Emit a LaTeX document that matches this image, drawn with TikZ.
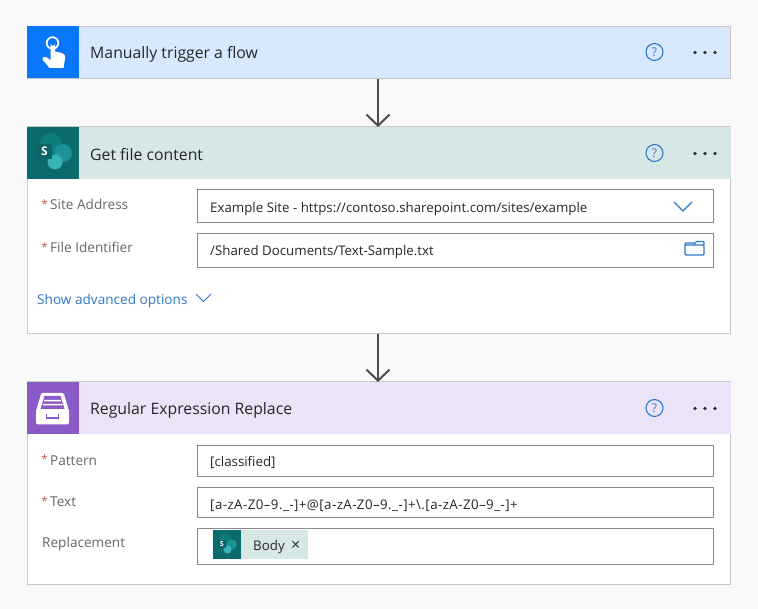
\documentclass[tikz,border=0pt]{standalone}
\usepackage{fontspec}
\setmainfont{Open Sans}
\usetikzlibrary{arrows.meta}
\definecolor{pagebg}{HTML}{F9F9F9}
\definecolor{cardline}{HTML}{C8C8C8}
\definecolor{fieldline}{HTML}{8A8A8A}
\definecolor{triggerhead}{HTML}{D8E9FF}
\definecolor{triggerblue}{HTML}{0A77FA}
\definecolor{sharehead}{HTML}{D7E7E6}
\definecolor{shareteal}{HTML}{0A6A6C}
\definecolor{sharetop}{HTML}{0E7C7E}
\definecolor{shareright}{HTML}{1D9398}
\definecolor{sharelow}{HTML}{3AB3B8}
\definecolor{sharesquare}{HTML}{0B6466}
\definecolor{regexhead}{HTML}{EBE3F7}
\definecolor{regexpurple}{HTML}{8A5BC8}
\definecolor{linkblue}{HTML}{2F78C8}
\definecolor{labelgray}{HTML}{666666}
\definecolor{reqred}{HTML}{C4524F}
\tikzset{
	card/.style={draw=cardline, fill=white, line width=1pt, anchor=north west, minimum width=703pt, inner sep=0pt},
	headbar/.style={draw=cardline, line width=1pt, anchor=north west, minimum width=703pt, minimum height=52pt, inner sep=0pt},
	iconbox/.style={anchor=north west, minimum width=52pt, minimum height=52pt, inner sep=0pt},
	title/.style={anchor=base west, inner sep=0pt, text=black!85, font=\fontsize{15.8}{18}\selectfont},
	fieldbox/.style={draw=fieldline, fill=white, line width=1.2pt, anchor=north west, minimum width=516pt, inner sep=0pt},
	fieldtext/.style={anchor=base west, inner sep=0pt, text=black!85, font=\fontsize{13.3}{15}\selectfont},
	fieldlabel/.style={anchor=base west, inner sep=0pt, text=labelgray, font=\fontsize{13.6}{15}\selectfont},
	reqmark/.style={anchor=base east, inner sep=0pt, text=reqred, font=\fontsize{11.5}{15}\selectfont},
	flowarrow/.style={draw=black!70, line width=2pt, -{Straight Barb[length=11pt,width=23pt,line width=2pt]}},
	helpring/.style={draw=linkblue, line width=1.1pt, circle, minimum size=17pt, inner sep=0pt, text=linkblue, font=\fontsize{12}{12}\selectfont},
	dot/.style={fill=black!80, circle, minimum size=3.8pt, inner sep=0pt},
}
% sharepoint mark: x, y of centre, size factor, letter size
\newcommand{\sharemark}[4]{
	\begin{scope}[shift={(#1,#2)}, scale=#3]
		\fill[sharetop] (-3,-9) circle (11);
		\fill[shareright] (9,0) circle (9);
		\fill[sharelow] (1,9) circle (7.5);
		\fill[sharesquare] (-17,-9) rectangle (-2,6);
		\node[inner sep=0pt, text=white, font=\bfseries\fontsize{#4}{12}\selectfont] at (-9.5,-1.5) {S};
	\end{scope}
}
\begin{document}
\begin{tikzpicture}[x=1pt, y=-1pt]
	\useasboundingbox[fill=pagebg] (0,0) rectangle (758,609);

	% trigger card
	\node[headbar, fill=triggerhead] (triggerbar) at (27,26) {};
	\node[iconbox, fill=triggerblue] (triggericon) at (27,26) {};
	\node[title] (triggertitle) at (90,59) {Manually trigger a flow};
	\node[helpring] (triggerhelp) at (654.5,52) {?};
	\node[dot] (triggerdota) at (695,52.5) {};
	\node[dot] (triggerdotb) at (705,52.5) {};
	\node[dot] (triggerdotc) at (715,52.5) {};
	% hand
	\draw[white, line width=1.7pt] (52.5,43) circle (5.8);
	\fill[white] (50.6,43.5) arc (180:0:2.3) -- (55.2,51.5) -- (62,53) .. controls (65,54) and (65.5,56) .. (65,59) -- (63.5,68) -- (49.5,68) -- (42.5,59.5) .. controls (41.5,57.5) and (44,56) .. (46,57) -- (50.6,60) -- cycle;

	% sharepoint card
	\node[card, minimum height=206pt] (sharecard) at (27,127) {};
	\node[headbar, fill=sharehead, draw=none] (sharebar) at (27,127) {};
	\draw[cardline, line width=1pt] (27,127) -- (731,127);
	\node[iconbox, fill=shareteal] (shareicon) at (27,127) {};
	\sharemark{54}{153}{1}{12}
	\node[title] (sharetitle) at (90,160.5) {Get file content};
	\node[helpring] (sharehelp) at (654.5,153) {?};
	\node[dot] (sharedota) at (695,153.5) {};
	\node[dot] (sharedotb) at (705,153.5) {};
	\node[dot] (sharedotc) at (715,153.5) {};
	\node[reqmark] (sitestar) at (48,208.5) {*};
	\node[fieldlabel] (sitelabel) at (50,209.5) {Site Address};
	\node[reqmark] (filestar) at (48,252) {*};
	\node[fieldlabel] (filelabel) at (50,253) {File Identifier};
	\node[fieldbox, minimum height=33pt] (sitefield) at (197,189) {};
	\node[fieldtext] (sitetext) at (210,212.5) {Example Site - https://contoso.sharepoint.com/sites/example};
	\draw[linkblue, line width=1.4pt] (674,202) -- (683,211) -- (692,202);
	\node[fieldbox, minimum height=34pt] (filefield) at (197,233) {};
	\node[fieldtext] (filetext) at (210,255.5) {/Shared Documents/Text-Sample.txt};
	\draw[linkblue, line width=1.1pt, rounded corners=1pt] (685,255) rectangle (704,245) (685,245) -- (685,243) -- (694,243) (694,245) -- (696,241.5) -- (704,241.5) -- (704,245);
	\node[fieldlabel, text=linkblue] (advanced) at (37,304.5) {Show advanced options};
	\draw[linkblue, line width=1pt] (196,294) -- (203.5,301.5) -- (211,294);

	% regex card
	\node[card, minimum height=202pt] (regexcard) at (27,382) {};
	\node[headbar, fill=regexhead, draw=none] (regexbar) at (27,382) {};
	\draw[cardline, line width=1pt] (27,382) -- (731,382);
	\node[iconbox, fill=regexpurple] (regexicon) at (27,382) {};
	% drawer
	\fill[white] (36,411) -- (41,394) .. controls (41.5,393) .. (43,393) -- (62,393) .. controls (63.5,393) .. (64,394) -- (69,411) -- cycle;
	\fill[white, rounded corners=2pt] (36,409) rectangle (69,424.5);
	\fill[regexpurple] (40.5,409) -- (44.5,396) -- (60.5,396) -- (64.5,409) -- cycle;
	\fill[white] (44,400) rectangle (61,401.5) (42.5,404) rectangle (62.5,405.5);
	\draw[regexpurple, line width=1.3pt] (46.5,414.5) -- (46.5,418) -- (58.5,418) -- (58.5,414.5);
	\node[title] (regextitle) at (90,415) {Regular Expression Replace};
	\node[helpring] (regexhelp) at (654.5,408) {?};
	\node[dot] (regexdota) at (695,408.5) {};
	\node[dot] (regexdotb) at (705,408.5) {};
	\node[dot] (regexdotc) at (715,408.5) {};
	\node[reqmark] (patternstar) at (48,464) {*};
	\node[fieldlabel] (patternlabel) at (50,465) {Pattern};
	\node[reqmark] (textstar) at (48,505) {*};
	\node[fieldlabel] (textlabel) at (50,506) {Text};
	\node[fieldlabel] (replacelabel) at (42,547) {Replacement};
	\node[fieldbox, minimum height=31pt] (patternfield) at (197,445) {};
	\node[fieldtext] (patterntext) at (210,467) {[classified]};
	\node[fieldbox, minimum height=30pt] (textfield) at (197,487) {};
	\node[fieldtext] (texttext) at (210,509) {\addfontfeature{LetterSpace=3.3}[a-zA-Z0--9.\_-]+@[a-zA-Z0--9.\_-]+\textbackslash.[a-zA-Z0--9\_-]+};
	\node[fieldbox, minimum height=36pt] (replacefield) at (197,528) {};
	\node[anchor=north west, fill=sharehead, minimum width=95pt, minimum height=29pt, inner sep=0pt] (bodytoken) at (213,530) {};
	\node[anchor=north west, fill=shareteal, minimum width=28pt, minimum height=29pt, inner sep=0pt] (bodyicon) at (213,530) {};
	\sharemark{227}{544.5}{0.55}{7}
	\node[fieldtext] (bodytext) at (253,550) {Body};
	\node[fieldtext, font=\fontsize{16}{16}\selectfont] (bodyclose) at (291,550.5) {×};

	% connectors
	\draw[flowarrow] ([xshift=-1pt]triggerbar.south) -- ([xshift=-1pt]sharebar.north);
	\draw[flowarrow] ([xshift=-1pt]sharecard.south) -- ([xshift=-1pt]regexbar.north);
\end{tikzpicture}
\end{document}
